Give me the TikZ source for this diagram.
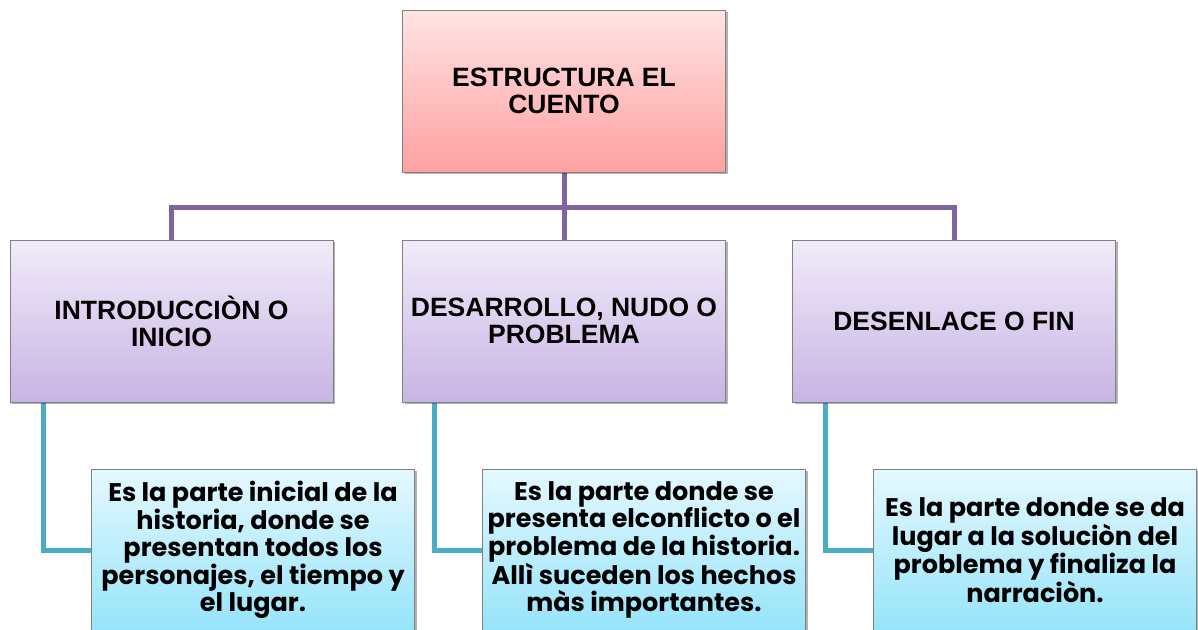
\documentclass[tikz,border=0pt]{standalone}
\usepackage{fontspec}
\setmainfont{Liberation Sans}
\newfontfamily\bodyfont{Poppins}
\usetikzlibrary{shadows,backgrounds}
\definecolor{pinkT}{RGB}{255,228,228}
\definecolor{pinkB}{RGB}{255,160,160}
\definecolor{lavT}{RGB}{241,235,249}
\definecolor{lavB}{RGB}{200,180,228}
\definecolor{cyanT}{RGB}{228,248,255}
\definecolor{cyanB}{RGB}{150,228,250}
\definecolor{purpleline}{RGB}{128,100,162}
\definecolor{tealline}{RGB}{75,172,198}
\definecolor{edgegray}{RGB}{128,128,128}
\tikzset{
  boxbase/.style={rectangle, draw=edgegray, line width=0.8pt, align=center,
    minimum width=323pt, minimum height=162pt, inner sep=0pt,
    drop shadow={shadow xshift=2pt, shadow yshift=-2pt, opacity=0.3, fill=black}},
  topbox/.style={boxbase, top color=pinkT, bottom color=pinkB,
    font=\fontsize{26.5}{27}\selectfont\bfseries},
  midbox/.style={boxbase, top color=lavT, bottom color=lavB,
    font=\fontsize{26.5}{27}\selectfont\bfseries},
  botbox/.style={boxbase, top color=cyanT, bottom color=cyanB,
    font=\bodyfont\fontsize{25.5}{27.5}\selectfont\bfseries},
  purpleconn/.style={draw=purpleline, line width=5pt},
  tealconn/.style={draw=tealline, line width=5pt}
}
\begin{document}
\begin{tikzpicture}[x=1pt,y=-1pt]
\clip (0,0) rectangle (1198,629);
\useasboundingbox (0,0) rectangle (1198,629);
\node[topbox] (top) at (564,91) {ESTRUCTURA EL\\CUENTO};
\node[midbox] (m1) at (171.5,321) {INTRODUCCIÒN O\\INICIO};
\node[midbox] (m2) at (564,321) {DESARROLLO, NUDO O\\PROBLEMA};
\node[midbox] (m3) at (954,321) {DESENLACE O FIN};
\node[botbox] (b1) at (253,550) {Es la parte inicial de la\\historia, donde se\\presentan todos los\\personajes, el tiempo y\\el lugar.};
\node[botbox] (b2) at (644,550) {Es la parte donde se\\presenta elconflicto o el\\problema de la historia.\\Allì suceden los hechos\\màs importantes.};
\node[botbox] (b3) at (1035,550) {Es la parte donde se da\\lugar a la soluciòn del\\problema y finaliza la\\narraciòn.};
\coordinate (hub) at (564,207);
\coordinate (t1) at (43,402);
\coordinate (t2) at (434,402);
\coordinate (t3) at (825,402);
\begin{scope}[on background layer]
\fill[white] (0,0) rectangle (1198,629);
\draw[purpleconn] (top.south) -- (hub);
\draw[purpleconn] (m1.north) |- (hub) -| (m3.north);
\draw[purpleconn] (hub) -- (m2.north);
\draw[tealconn] (t1) |- (b1.west);
\draw[tealconn] (t2) |- (b2.west);
\draw[tealconn] (t3) |- (b3.west);
\end{scope}
\end{tikzpicture}
\end{document}
